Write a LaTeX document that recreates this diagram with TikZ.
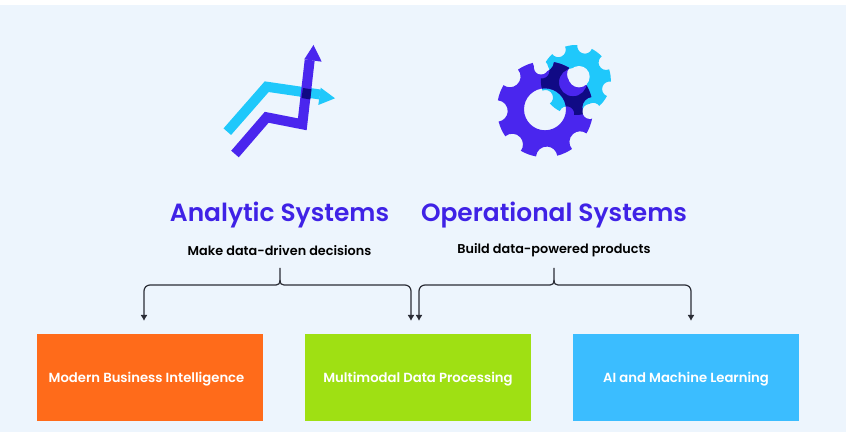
\documentclass[tikz,border=0pt]{standalone}
\usepackage{fontspec}
\setmainfont{Poppins}[BoldFont={Poppins SemiBold}]
\usetikzlibrary{calc,arrows.meta}
\definecolor{bgc}{HTML}{EDF5FD}
\definecolor{purp}{HTML}{4A26EE}
\definecolor{cyanc}{HTML}{1FC8FB}
\definecolor{navy}{HTML}{100A85}
\definecolor{titlec}{HTML}{3F22E6}
\definecolor{inkc}{HTML}{2B2D36}
\definecolor{orangec}{HTML}{FF6B1A}
\definecolor{greenc}{HTML}{9FE013}
\definecolor{bluec}{HTML}{3BBDFF}
% gear: outer radius, notch radius, hole (path), angle offset, path options
\newcommand{\gearshape}[5]{%
  \pgfmathsetmacro{\gd}{2*asin(#2/(2*#1))}%
  \path[#5] (#4-\gd:#1)
  \foreach \a in {0,45,...,315}{
    arc[start angle={#4+\a-90-\gd/2}, end angle={#4+\a-270+\gd/2}, radius=#2]
    arc[start angle={#4+\a+\gd}, end angle={#4+\a+45-\gd}, radius=#1]
  } -- cycle #3;}
\newcommand{\smallgear}[1]{\gearshape{35}{7.5}{(-2.8,-2.3) circle[radius=14]}{30}{#1}}
\newcommand{\biggear}[1]{\gearshape{48}{10.7}{(0,0) circle[radius=21]}{2}{#1}}
\tikzset{
  x=1pt,y=1pt,
  titletext/.style={font=\bfseries\fontsize{24.9}{28}\selectfont,text=titlec,inner sep=0pt},
  subtext/.style={font=\bfseries\fontsize{12.8}{15}\selectfont,text=black,inner sep=0pt},
  boxnode/.style={minimum width=226pt,minimum height=87pt,inner sep=0pt},
  boxlabel/.style={inner sep=0pt,font=\bfseries\fontsize{13.2}{15}\selectfont,text=white},
  conn/.style={draw=inkc,line width=1.2pt,rounded corners=6pt,-{Latex[length=6pt,width=7pt]}},
  stem/.style={draw=inkc,line width=1.2pt},
  shaft/.style={line width=10pt,line join=miter}
}
\begin{document}
\begin{tikzpicture}
\useasboundingbox (0,0) rectangle (847,-435);
\fill[white] (0,0) rectangle (847,-435);
\fill[bgc] (0,-5) rectangle (846,-432);

% chart arrows
\draw[shaft,cyanc] (227.3,-131.7) -- (266.7,-86.7) -- (320,-94.5);
\fill[cyanc] (320.7,-87.7) -- (335,-98.3) -- (318.3,-105) -- cycle;
\draw[shaft,purp] (235,-154) -- (266.7,-117.3) -- (302.3,-124.3) -- (309.7,-60);
\fill[purp] (304.3,-59.3) -- (313.5,-45) -- (321.7,-61.7) -- cycle;
\fill[navy] (303,-88) -- (311.5,-89.3) -- (310.3,-99.5) -- (301.5,-98) -- cycle;

% gears
\begin{scope}[shift={(575.8,-80)},even odd rule]
  \smallgear{fill=cyanc}
\end{scope}
\begin{scope}[shift={(545,-109.3)},even odd rule]
  \biggear{fill=purp}
\end{scope}
\begin{scope}[shift={(545,-109.3)},even odd rule]
  \biggear{clip}
  \begin{scope}[shift={(30.8,29.3)}]
    \smallgear{fill=navy}
  \end{scope}
\end{scope}
\fill[bgc] (579,-76.7) circle[radius=10.7];
\fill[bgc] (541,-67.5) circle[radius=7];
\fill[bgc] (590,-111.5) circle[radius=7.5];

% titles
\node[titletext] (ta) at (279.5,-215) {Analytic Systems};
\node[titletext] (to) at (554,-215) {Operational Systems};
\node[subtext] (sa) at (279.5,-250.5) {Make data-driven decisions};
\node[subtext] (so) at (554,-250.5) {Build data-powered products};

% boxes
\node[boxnode,fill=orangec] (bi) at (150,-377.5) {};
\node[boxnode,fill=greenc] (mm) at (418,-377.5) {};
\node[boxnode,fill=bluec] (ai) at (686,-377.5) {};
\node[boxlabel] (bit) at (146.5,-379) {Modern Business Intelligence};
\node[boxlabel] (mmt) at (418,-379) {Multimodal Data Processing};
\node[boxlabel] (ait) at (686,-379) {AI and Machine Learning};

% connectors
\coordinate (as) at (280,-268);
\coordinate (os) at (554,-268);
\coordinate (t1) at (144,-321);
\coordinate (t2) at (411,-321);
\coordinate (t3) at (419,-321);
\coordinate (t4) at (691,-321);
\draw[stem] (as) -- ++(0,-12) .. controls +(0,-4) and +(2,0) .. ++(-4,-5);
\draw[stem] (as) ++(0,-12) .. controls +(0,-4) and +(-2,0) .. ++(4,-5);
\draw[stem] (os) -- ++(0,-12) .. controls +(0,-4) and +(2,0) .. ++(-4,-5);
\draw[stem] (os) ++(0,-12) .. controls +(0,-4) and +(-2,0) .. ++(4,-5);
\draw[conn] ($(as)+(-4,-17)$) -| (t1);
\draw[conn] ($(as)+(4,-17)$) -| (t2);
\draw[conn] ($(os)+(-4,-17)$) -| (t3);
\draw[conn] ($(os)+(4,-17)$) -| (t4);
\end{tikzpicture}
\end{document}
